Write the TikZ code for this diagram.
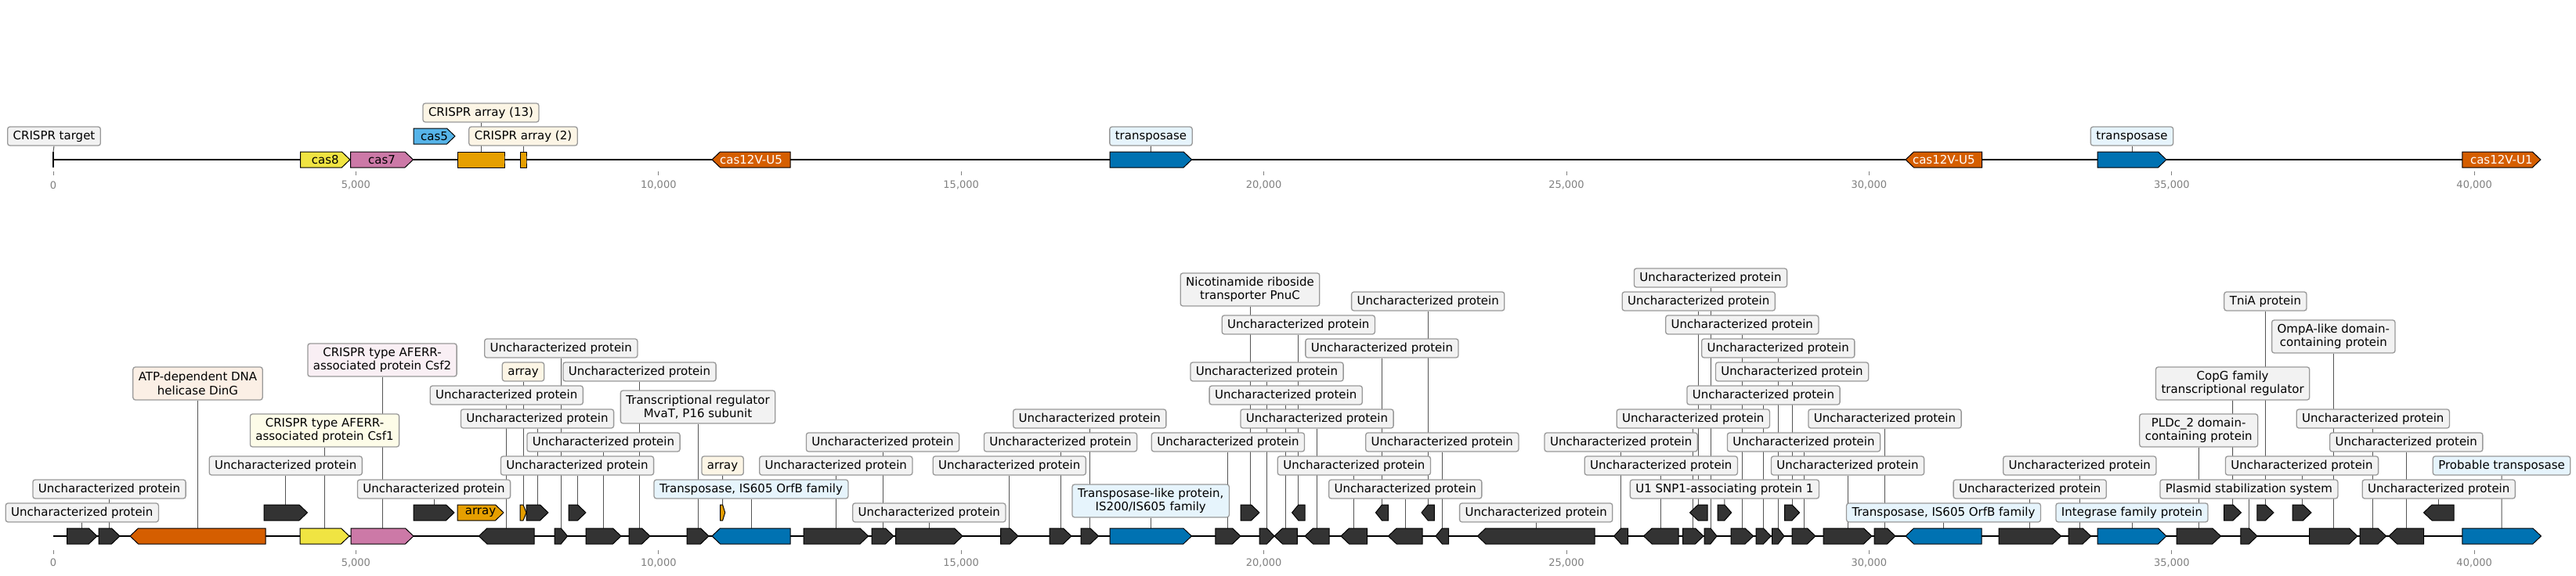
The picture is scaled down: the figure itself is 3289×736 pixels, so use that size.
\documentclass[tikz,border=0pt]{standalone}
\usepackage{fontspec}
\setmainfont{DejaVu Sans}
\definecolor{geneK}{HTML}{333333}
\definecolor{casBlue}{HTML}{0072B2}
\definecolor{casOrange}{HTML}{D55E00}
\definecolor{casYellow}{HTML}{F0E442}
\definecolor{casPink}{HTML}{CC79A7}
\definecolor{arrOrange}{HTML}{E69F00}
\definecolor{skyBlue}{HTML}{56B4E9}
\definecolor{tickG}{HTML}{808080}
\definecolor{boxEdge}{HTML}{999999}
\definecolor{leadG}{HTML}{555555}
\pgfdeclarelayer{bg}
\pgfsetlayers{bg,main}
\tikzset{
  track/.style={line width=2.2bp, black},
  genebox/.style={draw=black, line width=1bp},
  intext/.style={inner sep=0pt},
  lead/.style={draw=leadG, line width=1bp},
  lblbase/.style={draw=boxEdge, line width=1.3bp, rounded corners=3bp, fill=black!5,
    inner xsep=7bp, inner ysep=0pt},
  lbl/.style={lblbase, minimum height=24bp, text height=11.5bp, text depth=3.5bp},
  lbltwo/.style={lblbase, align=center, minimum height=42bp},
  tickmark/.style={draw=tickG, line width=1bp},
  ticklbl/.style={text=tickG, inner sep=0pt, font=\fontsize{13bp}{15bp}\selectfont}
}
% gene arrow: start, end, row y, strand (1, -1, 0), fill, name
\newcommand{\gene}[6]{%
  \pgfmathsetmacro{\gnH}{abs(#4)*min(10.5,(#2-#1)*0.5)}%
  \pgfmathsetmacro{\gnT}{#4<0 ? #2 : #1}%
  \pgfmathsetmacro{\gnP}{#4<0 ? #1 : #2}%
  \pgfmathsetmacro{\gnS}{#4<0 ? #1+\gnH : #2-\gnH}%
  \draw[genebox, fill=#5] (\gnT,#3-10) -- (\gnS,#3-10) -- (\gnP,#3) -- (\gnS,#3+10) -- (\gnT,#3+10) -- cycle;
  \coordinate (#6) at ({(#1+#2)/2},#3-10);
  \coordinate (#6-c) at ({(#1+#2)/2},#3);
}
\newcommand{\leader}[2]{\begin{pgfonlayer}{bg}\draw[lead] (#1) -- (#2.south);\end{pgfonlayer}}

\begin{document}
\begin{tikzpicture}[x=1bp, y=-1bp, font=\fontsize{15bp}{17.6bp}\selectfont]
  \useasboundingbox (0,0) rectangle (3289,736);

  % ---------------- top: CRISPR-Cas locus ----------------
  \draw[track] (68,204) -- (3244,204);
  \foreach \k/\t in {0/0,1/{5,000},2/{10,000},3/{15,000},4/{20,000},5/{25,000},6/{30,000},7/{35,000},8/{40,000}} {
    \draw[tickmark] ({68+386.4*\k},219) -- ({68+386.4*\k},224);
    \node[ticklbl] (tt\k) at ({68+386.4*\k},236.7) {\t};
  }
  % target site at position 0
  \draw[genebox, line width=1.5bp] (68,194) -- (68,214);
  \coordinate (tgt) at (68,194);
  \node[lbl] (tgt-l) at (69,174) {CRISPR target};
  \leader{tgt}{tgt-l}
  % cas genes
  \gene{383.7}{446.9}{204}{1}{casYellow}{cas8}
  \node[intext] (cas8-t) at (cas8-c) {cas8};
  \gene{447.6}{527.5}{204}{1}{casPink}{cas7}
  \node[intext] (cas7-t) at (cas7-c) {cas7};
  \gene{528}{581}{174}{1}{skyBlue}{cas5}
  \node[intext] (cas5-t) at (cas5-c) {cas5};
  % arrays
  \gene{584}{644}{204}{0}{arrOrange}{arrA}
  \node[lbl, fill=arrOrange!10] (arrA-l) at (614,144) {CRISPR array (13)};
  \leader{arrA}{arrA-l}
  \gene{664}{672}{204}{0}{arrOrange}{arrB}
  \node[lbl, fill=arrOrange!10] (arrB-l) at (668,174) {CRISPR array (2)};
  \leader{arrB}{arrB-l}
  % effectors and transposases
  \gene{909}{1009}{204}{-1}{casOrange}{uFiveA}
  \node[intext, text=white] (uFiveA-t) at (uFiveA-c) {cas12V-U5};
  \gene{1417}{1521.6}{204}{1}{casBlue}{tnpA}
  \node[lbl, fill=skyBlue!15] (tnpA-l) at (1469.5,174) {transposase};
  \leader{tnpA}{tnpA-l}
  \gene{2433}{2530.6}{204}{-1}{casOrange}{uFiveB}
  \node[intext, text=white] (uFiveB-t) at (uFiveB-c) {cas12V-U5};
  \gene{2678}{2766}{204}{1}{casBlue}{tnpB}
  \node[lbl, fill=skyBlue!15] (tnpB-l) at (2722,174) {transposase};
  \leader{tnpB}{tnpB-l}
  \gene{3143.8}{3243.8}{204}{1}{casOrange}{uOne}
  \node[intext, text=white] (uOne-t) at (uOne-c) {cas12V-U1};

  % ---------------- bottom: annotated genes ----------------
  \draw[track] (68,685) -- (3244,685);
  \foreach \k/\t in {0/0,1/{5,000},2/{10,000},3/{15,000},4/{20,000},5/{25,000},6/{30,000},7/{35,000},8/{40,000}} {
    \draw[tickmark] ({68+386.4*\k},702.7) -- ({68+386.4*\k},707.7);
    \node[ticklbl] (bt\k) at ({68+386.4*\k},719) {\t};
  }
  % uncharacterized proteins: start/end/row/strand/label level
  \foreach \a/\b/\r/\d/\ly [count=\i] in {
      85.7/123.9/685/1/655, 126/153/685/1/625, 337/392.5/655/1/595, 528/580/655/1/625,
      611.4/682.1/685/-1/505, 672/700/655/1/535, 708/724.6/685/1/445, 726/748/655/1/595,
      748/793/685/1/565, 803/830/685/1/475, 1026/1108.6/685/1/595, 1113/1141/685/1/565,
      1143.6/1229/685/1/655, 1277.5/1300/685/1/595, 1340/1368/685/1/565, 1380/1402.5/685/1/535,
      1551.8/1584/685/1/565, 1608/1627/685/1/475, 1627/1656.4/685/-1/505, 1649.6/1666/655/-1/415,
      1666/1697/685/-1/535, 1712/1745.7/685/-1/595, 1756.4/1772.5/655/-1/445, 1772.5/1816/685/-1/625,
      1815/1831.4/655/-1/385, 1833/1849.6/685/-1/565, 1886.4/2036/685/-1/655, 2060.7/2078.6/685/-1/565,
      2098.6/2143/685/-1/595, 2148.6/2175/685/1/535, 2157.5/2180/655/-1/385, 2176/2192/685/1/355,
      2210/2238.6/685/1/415, 2242/2261/685/1/505, 2262.5/2278/685/1/445, 2278.6/2297.5/655/1/475,
      2288/2318/685/1/565, 2328/2390/685/1/595, 2393/2420/685/1/535, 2552/2631.4/685/1/625,
      2641/2669.6/685/1/595, 2927/2951/655/1/595, 3013/3046.6/685/1/535, 3050/3094.5/685/-1/565,
      3094.5/3133/655/-1/625} {
    \gene{\a}{\b}{\r}{\d}{geneK}{u\i}
    \node[lbl] (u\i-l) at ({(\a+\b)/2},\ly) {Uncharacterized protein};
    \leader{u\i}{u\i-l}
  }
  % CRISPR-associated genes
  \gene{166}{339}{685}{-1}{casOrange}{ding}
  \node[lbltwo, fill=casOrange!10] (ding-l) at (252.5,490) {ATP-dependent DNA\\helicase DinG};
  \leader{ding}{ding-l}
  \gene{383}{446}{685}{1}{casYellow}{csfA}
  \node[lbltwo, fill=casYellow!12] (csfA-l) at (414.5,550) {CRISPR type AFERR-\\associated protein Csf1};
  \leader{csfA}{csfA-l}
  \gene{448}{528}{685}{1}{casPink}{csfB}
  \node[lbltwo, fill=casPink!12] (csfB-l) at (488,460) {CRISPR type AFERR-\\associated protein Csf2};
  \leader{csfB}{csfB-l}
  \gene{584}{643}{655}{1}{arrOrange}{arrC}
  \node[intext] (arrC-t) at (arrC-c) {array};
  \gene{664}{672}{655}{1}{arrOrange}{arrD}
  \node[lbl, fill=arrOrange!10] (arrD-l) at (668,475) {array};
  \leader{arrD}{arrD-l}
  \gene{877}{905}{685}{1}{geneK}{mvat}
  \node[lbltwo] (mvat-l) at (891,520) {Transcriptional regulator\\MvaT, P16 subunit};
  \leader{mvat}{mvat-l}
  % transposases and mobile elements
  \gene{909}{1009}{685}{-1}{casBlue}{orfA}
  \node[lbl, fill=skyBlue!15] (orfA-l) at (959,625) {Transposase, IS605 OrfB family};
  \leader{orfA}{orfA-l}
  \gene{919.6}{925.7}{655}{1}{arrOrange}{arrE}
  \node[lbl, fill=arrOrange!10] (arrE-l) at (922.6,595) {array};
  \leader{arrE}{arrE-l}
  \gene{1417}{1521.4}{685}{1}{casBlue}{tlp}
  \node[lbltwo, fill=skyBlue!15] (tlp-l) at (1469.2,640) {Transposase-like protein,\\IS200/IS605 family};
  \leader{tlp}{tlp-l}
  \gene{1584}{1608}{655}{1}{geneK}{pnuc}
  \node[lbltwo] (pnuc-l) at (1596,370) {Nicotinamide riboside\\transporter PnuC};
  \leader{pnuc}{pnuc-l}
  \gene{2193}{2210.7}{655}{1}{geneK}{snp}
  \node[lbl] (snp-l) at (2201.9,625) {U1 SNP1-associating protein 1};
  \leader{snp}{snp-l}
  \gene{2433}{2530}{685}{-1}{casBlue}{orfB}
  \node[lbl, fill=skyBlue!15] (orfB-l) at (2481.5,655) {Transposase, IS605 OrfB family};
  \leader{orfB}{orfB-l}
  \gene{2678}{2766}{685}{1}{casBlue}{intg}
  \node[lbl, fill=skyBlue!15] (intg-l) at (2722,655) {Integrase family protein};
  \leader{intg}{intg-l}
  \gene{2779}{2835.4}{685}{1}{geneK}{pld}
  \node[lbltwo] (pld-l) at (2807.2,550) {PLDc\_2 domain-\\containing protein};
  \leader{pld}{pld-l}
  \gene{2839.7}{2861.5}{655}{1}{geneK}{copg}
  \node[lbltwo] (copg-l) at (2850.6,490) {CopG family\\transcriptional regulator};
  \leader{copg}{copg-l}
  \gene{2860.8}{2882}{685}{1}{geneK}{pss}
  \node[lbl] (pss-l) at (2871.4,625) {Plasmid stabilization system};
  \leader{pss}{pss-l}
  \gene{2881.8}{2903}{655}{1}{geneK}{tnia}
  \node[lbl] (tnia-l) at (2892.4,385) {TniA protein};
  \leader{tnia}{tnia-l}
  \gene{2948.6}{3010}{685}{1}{geneK}{ompa}
  \node[lbltwo] (ompa-l) at (2979.3,430) {OmpA-like domain-\\containing protein};
  \leader{ompa}{ompa-l}
  \gene{3143.9}{3244.4}{685}{1}{casBlue}{ptnp}
  \node[lbl, fill=skyBlue!15] (ptnp-l) at (3194,595) {Probable transposase};
  \leader{ptnp}{ptnp-l}
\end{tikzpicture}
\end{document}
